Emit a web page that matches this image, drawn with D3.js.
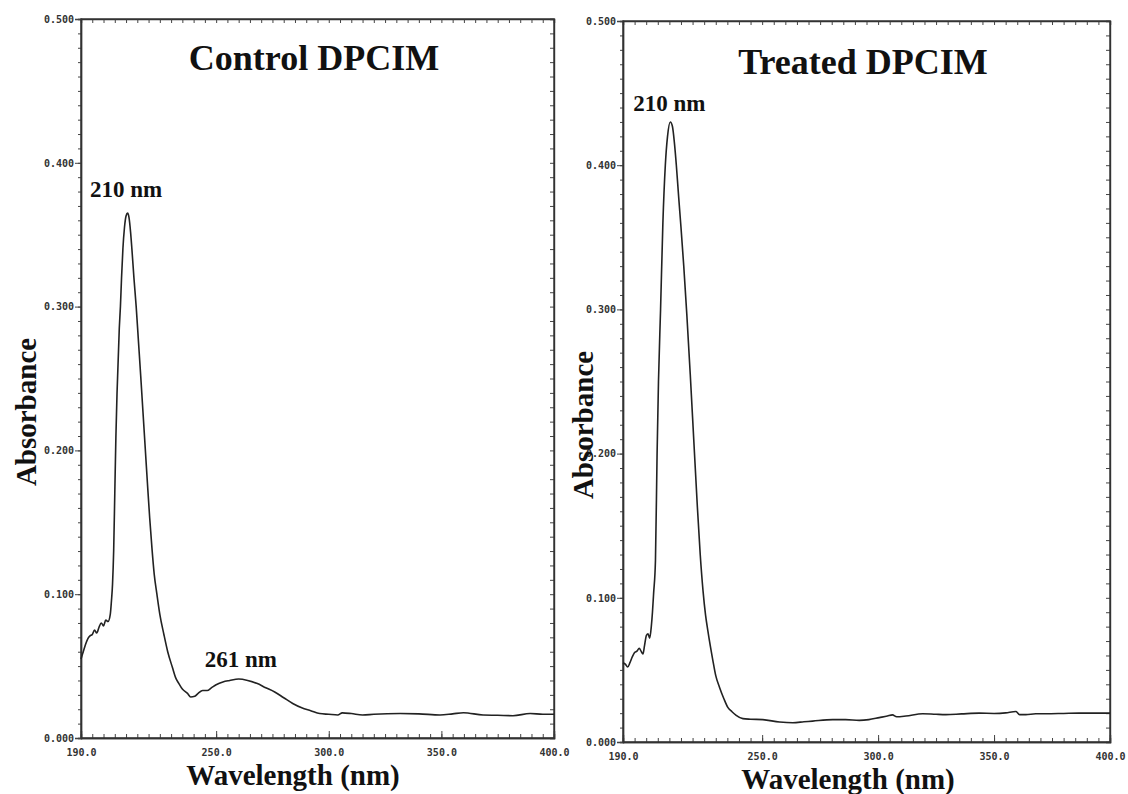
<!DOCTYPE html>
<html>
<head>
<meta charset="utf-8">
<script src="https://cdn.jsdelivr.net/npm/d3@7"></script>
<style>
  body { margin: 0; background: #fff; }
  svg { display: block; }
</style>
</head>
<body>
<svg width="1128" height="794"></svg>
<script>
// wavelength (nm) / absorbance
var controlWavelength = [190, 191, 192, 193, 194, 195, 196, 197, 198, 199, 200, 201, 202, 203, 203.5, 204, 204.5, 205, 205.5, 206, 207, 207.5, 208, 208.6, 209.3, 210, 210.7, 211.3, 212, 212.6, 213.5, 214.5, 215.5, 216.5, 217.5, 218.5, 219.5, 220.5, 221.5, 222.5, 223.7, 225, 226.8, 228.5, 230.6, 232, 233.4, 235, 237.3, 238.7, 240.5, 242, 244, 246, 248, 250, 253, 256, 260, 264, 268, 272, 276, 280, 284, 288, 292, 296, 300, 304, 306, 310, 315, 320, 331.7, 340, 349.4, 355, 359.8, 368.5, 375, 381.8, 389.4, 395, 400];
var controlAbsorbance = [0.055, 0.060, 0.065, 0.069, 0.071, 0.072, 0.075, 0.073, 0.077, 0.080, 0.078, 0.082, 0.081, 0.086, 0.095, 0.107, 0.13, 0.17, 0.21, 0.24, 0.285, 0.30, 0.32, 0.34, 0.355, 0.363, 0.365, 0.362, 0.352, 0.34, 0.32, 0.30, 0.276, 0.252, 0.227, 0.202, 0.177, 0.153, 0.132, 0.114, 0.100, 0.086, 0.072, 0.060, 0.049, 0.042, 0.038, 0.034, 0.031, 0.0285, 0.029, 0.031, 0.033, 0.033, 0.035, 0.037, 0.039, 0.040, 0.041, 0.040, 0.038, 0.035, 0.032, 0.028, 0.024, 0.021, 0.019, 0.017, 0.0165, 0.016, 0.0175, 0.017, 0.016, 0.0165, 0.017, 0.0168, 0.016, 0.0168, 0.0176, 0.016, 0.0158, 0.0155, 0.017, 0.0165, 0.0165];

var treatedWavelength = [190, 191, 192, 193, 194, 195, 196, 197, 197.8, 198.6, 199.3, 200.1, 200.8, 201.5, 202.2, 202.7, 203.2, 204, 204.7, 205.3, 206.2, 207.2, 208.25, 209.2, 210.4, 211.3, 212.2, 213, 214, 215, 216.2, 217.5, 219, 220.5, 222, 223.3, 224.5, 225.6, 226.6, 228.7, 230, 231.6, 233.5, 235.2, 237, 238.8, 241.7, 245, 250.3, 257.5, 263.2, 268, 271.8, 280.4, 286, 291.9, 296, 300.5, 304, 306.2, 308, 312, 319.2, 325, 329.2, 336, 343.6, 350, 355, 359.4, 361, 363.7, 368, 372.3, 380, 386.6, 395, 400];
var treatedAbsorbance = [0.055, 0.054, 0.052, 0.055, 0.059, 0.062, 0.063, 0.065, 0.063, 0.061, 0.067, 0.074, 0.075, 0.072, 0.080, 0.090, 0.103, 0.126, 0.20, 0.25, 0.30, 0.36, 0.40, 0.42, 0.430, 0.427, 0.415, 0.40, 0.378, 0.357, 0.33, 0.297, 0.255, 0.21, 0.165, 0.13, 0.105, 0.088, 0.077, 0.057, 0.046, 0.038, 0.030, 0.024, 0.021, 0.0185, 0.0162, 0.0158, 0.0155, 0.0139, 0.0134, 0.014, 0.0145, 0.0155, 0.0155, 0.015, 0.0155, 0.0169, 0.018, 0.0188, 0.0175, 0.018, 0.0196, 0.0192, 0.019, 0.0195, 0.020, 0.0198, 0.0202, 0.0212, 0.019, 0.019, 0.0196, 0.0196, 0.0198, 0.020, 0.020, 0.020];

var xTickValues = [190, 250, 300, 350, 400];
var yTickValues = [0, 0.1, 0.2, 0.3, 0.4, 0.5];

var panelTitles = ["Control DPCIM", "Treated DPCIM"];
var controlPeaks = [{nm: 210, label: "210 nm"}, {nm: 261, label: "261 nm"}];
var treatedPeaks = [{nm: 210, label: "210 nm"}];

var svg = d3.select("svg");

function drawPanel(p) {
  var x = d3.scaleLinear().domain([190, 400]).range([p.left, p.right]),
      y = d3.scaleLinear().domain([0, 0.5]).range([p.bottom, p.top]);

  var g = svg.append("g");
  var minorX = d3.range(190, 400.1, 5),
      minorY = d3.range(0, 0.5001, 0.01);

  // minor ticks all round the frame
  g.append("g").attr("transform", "translate(0," + p.bottom + ")")
    .call(d3.axisBottom(x).tickValues(minorX).tickSize(-4).tickFormat(""));
  g.append("g").attr("transform", "translate(0," + p.top + ")")
    .call(d3.axisTop(x).tickValues(minorX).tickSize(-4).tickFormat(""));
  g.append("g").attr("transform", "translate(" + p.left + ",0)")
    .call(d3.axisLeft(y).tickValues(minorY).tickSize(3).tickFormat(""));
  g.append("g").attr("transform", "translate(" + p.right + ",0)")
    .call(d3.axisRight(y).tickValues(minorY).tickSize(-4).tickFormat(""));

  // labelled ticks
  g.append("g").attr("class", "lab").attr("transform", "translate(0," + p.bottom + ")")
    .call(d3.axisBottom(x).tickValues(xTickValues).tickSize(-7).tickPadding(11).tickFormat(d3.format(".1f")));
  g.append("g").attr("class", "lab").attr("transform", "translate(" + p.left + ",0)")
    .call(d3.axisLeft(y).tickValues(yTickValues).tickSize(6).tickPadding(1).tickFormat(d3.format(".3f")));

  g.selectAll(".domain").attr("stroke", "#333").attr("stroke-width", 1.4);
  g.selectAll(".tick line").attr("stroke", "#444").attr("stroke-width", 1);
  g.selectAll(".lab text")
    .attr("font-family", "DejaVu Sans Mono")
    .attr("font-size", 10)
    .attr("font-weight", "bold")
    .attr("fill", "#333");

  g.append("rect")
    .attr("x", p.left).attr("y", p.top)
    .attr("width", p.right - p.left).attr("height", p.bottom - p.top)
    .attr("fill", "none").attr("stroke", "#333").attr("stroke-width", 1.4);

  var pts = p.wl.map(function(d, i) { return [d, p.ab[i]]; });
  var line = d3.line()
    .x(function(d) { return x(d[0]); })
    .y(function(d) { return y(d[1]); })
    .curve(d3.curveMonotoneX);

  g.append("path")
    .datum(pts)
    .attr("d", line)
    .attr("fill", "none")
    .attr("stroke", "#222")
    .attr("stroke-width", 1.6);

  g.append("text")
    .text(p.title)
    .attr("x", p.titleX).attr("y", p.titleY)
    .attr("text-anchor", "middle")
    .attr("font-family", "Liberation Serif")
    .attr("font-weight", "bold")
    .attr("font-size", 36)
    .attr("fill", "#111");

  p.peaks.forEach(function(pk, i) {
    g.append("text")
      .text(pk.label)
      .attr("x", x(pk.nm) + p.peakDx[i])
      .attr("y", p.peakY[i])
      .attr("text-anchor", "middle")
      .attr("font-family", "Liberation Serif")
      .attr("font-weight", "bold")
      .attr("font-size", 23)
      .attr("fill", "#111");
  });

  g.append("text")
    .text("Wavelength (nm)")
    .attr("x", p.xLabX).attr("y", p.xLabY)
    .attr("text-anchor", "middle")
    .attr("font-family", "Liberation Serif")
    .attr("font-weight", "bold")
    .attr("font-size", 29)
    .attr("fill", "#111");

  g.append("text")
    .text("Absorbance")
    .attr("transform", "translate(" + p.yLabX + "," + p.yLabY + ") rotate(-90)")
    .attr("text-anchor", "middle")
    .attr("font-family", "Liberation Serif")
    .attr("font-weight", "bold")
    .attr("font-size", 29)
    .attr("fill", "#111");
}

drawPanel({
  left: 81, right: 554, top: 19, bottom: 738,
  wl: controlWavelength, ab: controlAbsorbance,
  title: panelTitles[0], titleX: 314, titleY: 70,
  peaks: controlPeaks, peakDx: [0, 0], peakY: [197, 667],
  xLabX: 293, xLabY: 785, yLabX: 36, yLabY: 412
});

drawPanel({
  left: 623, right: 1110, top: 21, bottom: 742,
  wl: treatedWavelength, ab: treatedAbsorbance,
  title: panelTitles[1], titleX: 863, titleY: 74,
  peaks: treatedPeaks, peakDx: [0], peakY: [111],
  xLabX: 848, xLabY: 789, yLabX: 593, yLabY: 425
});
</script>
</body>
</html>
